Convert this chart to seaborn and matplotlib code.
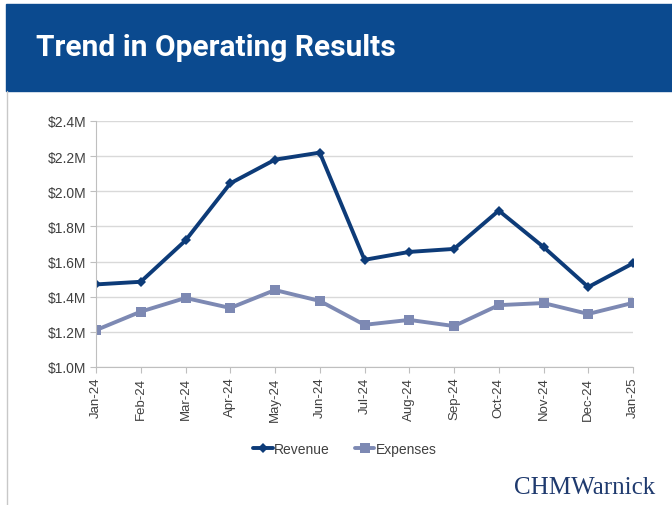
import numpy as np
import pandas as pd
import matplotlib
matplotlib.use("Agg")
import matplotlib.pyplot as plt
from matplotlib.patches import Rectangle
from matplotlib.lines import Line2D
import seaborn as sns

HEADER_BG = "#0b4a8f"
REV_COLOR = "#0d3b78"
EXP_COLOR = "#7d89b3"
GRID = "#d9d9d9"
TEXT = "#404040"

months = ["Jan-24", "Feb-24", "Mar-24", "Apr-24", "May-24", "Jun-24", "Jul-24",
          "Aug-24", "Sep-24", "Oct-24", "Nov-24", "Dec-24", "Jan-25"]
revenue = [1.47, 1.485, 1.72, 2.045, 2.18, 2.22, 1.61, 1.655, 1.672, 1.89, 1.683, 1.455, 1.59]
expenses = [1.21, 1.315, 1.393, 1.336, 1.438, 1.376, 1.24, 1.268, 1.233, 1.352, 1.364, 1.302, 1.365]
yticks = [1.0, 1.2, 1.4, 1.6, 1.8, 2.0, 2.2, 2.4]

df = pd.DataFrame({"month": months, "Revenue": revenue, "Expenses": expenses})

sns.set_style("white")
plt.rcParams["font.family"] = ["Liberation Sans", "DejaVu Sans"]

fig = plt.figure(figsize=(6.72, 5.06), dpi=100)
fig.patch.set_facecolor("white")

# header band + left border
fig.patches.append(Rectangle((6 / 672, 1 - 92 / 506), 1, 87 / 506,
                             transform=fig.transFigure, color=HEADER_BG, zorder=0))
fig.add_artist(Line2D([6.5 / 672, 6.5 / 672], [0, 1 - 92 / 506],
                      transform=fig.transFigure, color="#c8c8c8", lw=1))
fig.text(36 / 672, 1 - 48 / 506, "Trend in Operating Results", color="white",
         fontsize=21.5, fontweight="bold", family=["Roboto", "DejaVu Sans"],
         va="center", ha="left")

ax = fig.add_axes([96 / 672, 1 - 368 / 506, 537 / 672, 246 / 506])
sns.lineplot(data=df, x="month", y="Revenue", ax=ax, color=REV_COLOR, lw=2.8,
             marker="D", markersize=5, markeredgewidth=0, sort=False, label="Revenue")
sns.lineplot(data=df, x="month", y="Expenses", ax=ax, color=EXP_COLOR, lw=2.8,
             marker="s", markersize=7, markeredgewidth=0, sort=False, label="Expenses")

ax.set_xlim(0, len(months) - 1)
ax.set_ylim(1.0, 2.4)
ax.set_yticks(yticks)
ax.set_yticklabels([f"${v:.1f}M" for v in yticks], color=TEXT, fontsize=10)
ax.set_xticks(range(len(months)))
ax.set_xticklabels(months, rotation=90, color=TEXT, fontsize=9.5)
ax.set_xlabel("")
ax.set_ylabel("")
ax.grid(axis="y", color=GRID, lw=1)
ax.set_axisbelow(True)
for side in ["top", "right"]:
    ax.spines[side].set_visible(False)
for side in ["left", "bottom"]:
    ax.spines[side].set_color("#bfbfbf")
ax.tick_params(axis="x", length=4, color="#bfbfbf", pad=3, bottom=True)
ax.tick_params(axis="y", length=4, color="#bfbfbf", pad=3, direction="out", left=True)

ax.legend(loc="center", bbox_to_anchor=(345 / 672, 1 - 450 / 506),
          bbox_transform=fig.transFigure, ncol=2, frameon=False, fontsize=10,
          handlelength=1.4, handletextpad=0.1, columnspacing=1.8, labelcolor=TEXT)

fig.text(655 / 672, 1 - 488 / 506, "CHMWarnick", color="#1f3a6e", fontsize=18,
         family=["Liberation Serif", "DejaVu Serif"], ha="right", va="center")

fig.savefig("out.png", dpi=100, facecolor="white")
